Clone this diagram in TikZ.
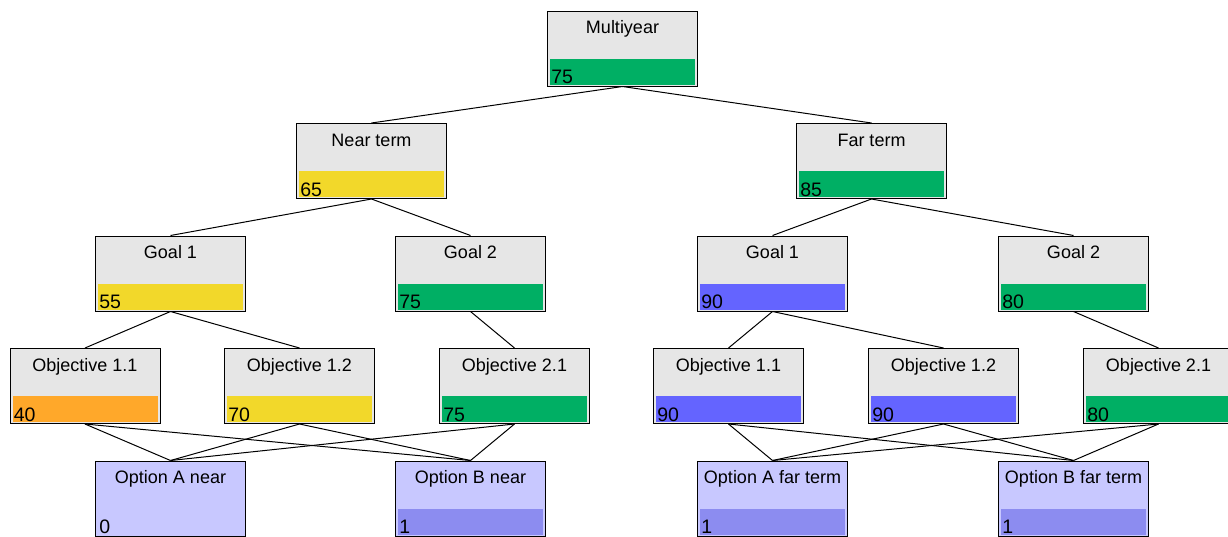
\documentclass[tikz,border=0pt]{standalone}
\usepackage{fontspec}
\setmainfont{Liberation Sans}
\usepackage{xcolor}
\usepackage{tikz}
\usetikzlibrary{calc}
\usetikzlibrary{positioning}

\definecolor{cardgray}{HTML}{E6E6E6}
\definecolor{scoregreen}{HTML}{00AF64}
\definecolor{scoreyellow}{HTML}{F2D82A}
\definecolor{scoreorange}{HTML}{FFA82A}
\definecolor{scoreblue}{HTML}{6464FF}
\definecolor{optionfill}{HTML}{C8C8FF}
\definecolor{optionbar}{HTML}{8C8CF0}

% one score card: [style] name, x, y, title, value, bar colour
\newcommand{\scorecard}[7][card]{%
  \node[#1] (#2) at (#3,#4) {};
  \node[cardtitle] at ($(#2.north)+(0,23)$) {#5};
  \fill[#7] ($(#2.south west)+(3,-2)$) rectangle ($(#2.south east)+(-3,-28)$);
  \node[cardvalue] at ($(#2.south west)+(4,-3)$) {#6};
}

\begin{document}
\begin{tikzpicture}[x=1pt,y=-1pt,-,semithick]
	\tikzstyle{card}=[draw, rectangle, fill=cardgray, line width=1pt, minimum width=150pt, minimum height=75pt, inner sep=0pt]
	\tikzstyle{option}=[card, fill=optionfill]
	\tikzstyle{cardtitle}=[anchor=base, inner sep=0pt, font=\fontsize{18}{20}\selectfont]
	\tikzstyle{cardvalue}=[anchor=base west, inner sep=0pt, font=\fontsize{19.5}{21}\selectfont]
	\useasboundingbox (0,0) rectangle (1228,536);

	\scorecard{multi}{622.5}{48.5}{Multiyear}{75}{scoregreen}
	\scorecard{near}{371.5}{161}{Near term}{65}{scoreyellow}
	\scorecard{far}{871.5}{161}{Far term}{85}{scoregreen}

	\scorecard{neg1}{170.5}{273.5}{Goal 1}{55}{scoreyellow}
	\scorecard{neg2}{470.5}{273.5}{Goal 2}{75}{scoregreen}
	\scorecard{fag1}{772.5}{273.5}{Goal 1}{90}{scoreblue}
	\scorecard{fag2}{1073.5}{273.5}{Goal 2}{80}{scoregreen}

	\scorecard{neo11}{85}{386}{Objective 1.1}{40}{scoreorange}
	\scorecard{neo12}{299.5}{386}{Objective 1.2}{70}{scoreyellow}
	\scorecard{neo21}{514.5}{386}{Objective 2.1}{75}{scoregreen}
	\scorecard{fao11}{728.5}{386}{Objective 1.1}{90}{scoreblue}
	\scorecard{fao12}{943.5}{386}{Objective 1.2}{90}{scoreblue}
	\scorecard{fao21}{1158.5}{386}{Objective 2.1}{80}{scoregreen}

	\scorecard[option]{neoptA}{170.5}{498.5}{Option A near}{0}{optionfill}
	\scorecard[option]{neoptB}{470.5}{498.5}{Option B near}{1}{optionbar}
	\scorecard[option]{faoptA}{772.5}{498.5}{Option A far term}{1}{optionbar}
	\scorecard[option]{faoptB}{1073.5}{498.5}{Option B far term}{1}{optionbar}

	\path[line width=1pt]
		(multi.south) edge (near.north)
		(multi.south) edge (far.north)
		(near.south) edge (neg1.north)
		(near.south) edge (neg2.north)
		(far.south) edge (fag1.north)
		(far.south) edge (fag2.north)
		(neg1.south) edge (neo11.north)
		(neg1.south) edge (neo12.north)
		(neg2.south) edge (neo21.north)
		(fag1.south) edge (fao11.north)
		(fag1.south) edge (fao12.north)
		(fag2.south) edge (fao21.north)
		% objectives to options
		(neo11.south) edge (neoptA.north)
		(neo11.south) edge (neoptB.north)
		(neo12.south) edge (neoptA.north)
		(neo12.south) edge (neoptB.north)
		(neo21.south) edge (neoptA.north)
		(neo21.south) edge (neoptB.north)
		(fao11.south) edge (faoptA.north)
		(fao11.south) edge (faoptB.north)
		(fao12.south) edge (faoptA.north)
		(fao12.south) edge (faoptB.north)
		(fao21.south) edge (faoptA.north)
		(fao21.south) edge (faoptB.north);
\end{tikzpicture}
\end{document}
